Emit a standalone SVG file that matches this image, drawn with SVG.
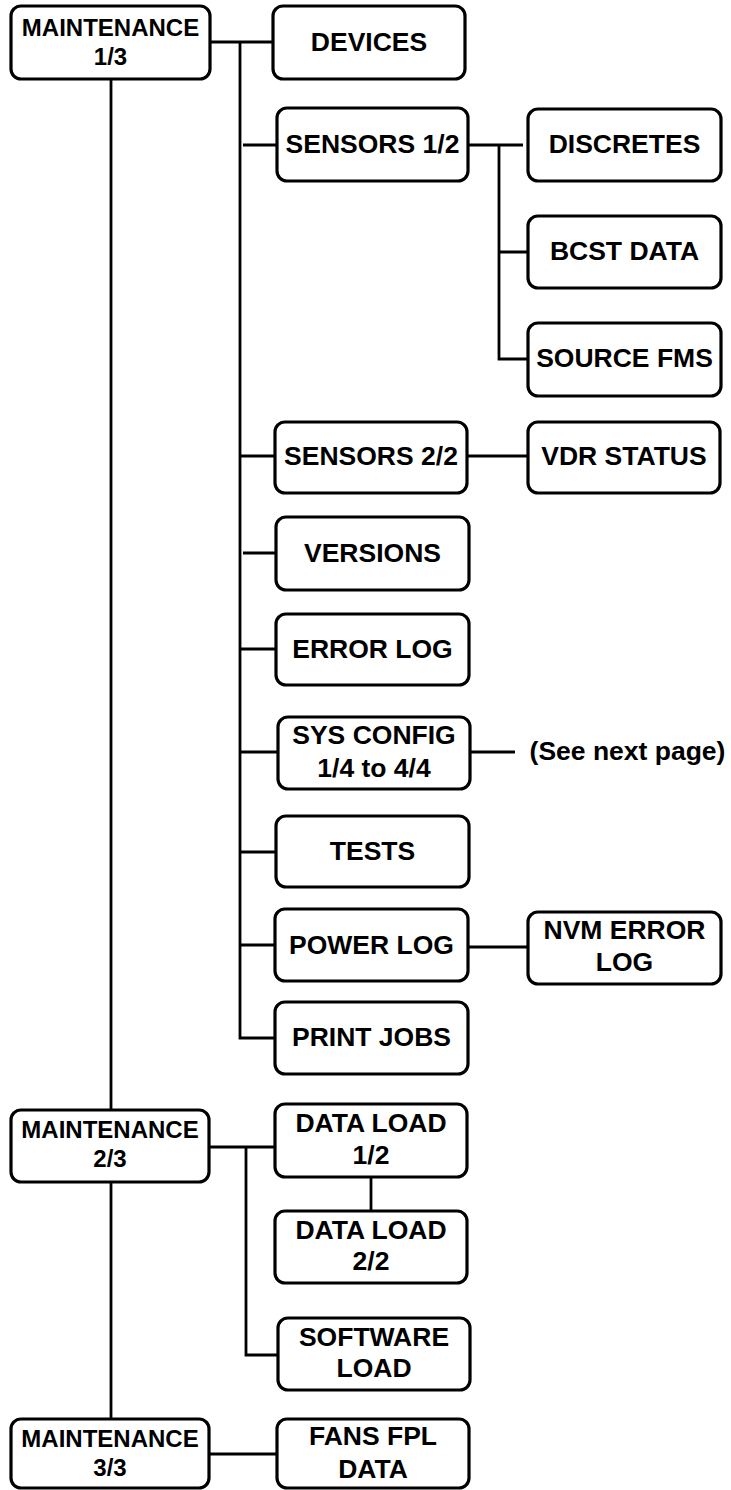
<svg xmlns="http://www.w3.org/2000/svg" width="731" height="1490" viewBox="0 0 731 1490">
<style>
.box{fill:#fff;stroke:#000;stroke-width:3.2}
.t{font-family:"Liberation Sans",Arial,sans-serif;font-weight:bold;font-size:26.5px;fill:#000;text-anchor:middle}
.m{font-size:24px}
.c{fill:none;stroke:#000;stroke-width:2.8}
</style>
<rect width="731" height="1490" fill="#fff"/>
<g id="connectors">
<path class="c" d="M210 42H273"/>
<path class="c" d="M240 42V1038H275"/>
<path class="c" d="M243 145H277"/>
<path class="c" d="M240 456H275"/>
<path class="c" d="M243 553H276"/>
<path class="c" d="M240 649H276"/>
<path class="c" d="M240 752H278"/>
<path class="c" d="M240 852H276"/>
<path class="c" d="M240 945H275"/>
<path class="c" d="M468 145H523"/>
<path class="c" d="M499 145V359H528"/>
<path class="c" d="M499 252H536"/>
<path class="c" d="M467 456H528"/>
<path class="c" d="M470 752H515"/>
<path class="c" d="M468 947H528"/>
<path class="c" d="M111 79V1110"/>
<path class="c" d="M111 1182V1419"/>
<path class="c" d="M209 1147H275"/>
<path class="c" d="M246 1147V1355H278"/>
<path class="c" d="M371 1177V1211"/>
<path class="c" d="M209 1454H277"/>
</g>
<g id="maint1"><rect class="box" x="11" y="6" width="199" height="73" rx="10"/><text class="t m" x="110.5" y="36">MAINTENANCE</text><text class="t m" x="110.5" y="65">1/3</text></g>
<g id="devices"><rect class="box" x="273" y="6" width="192" height="73" rx="10"/><text class="t" x="369" y="51">DEVICES</text></g>
<g id="sensors1"><rect class="box" x="277" y="108" width="191" height="73" rx="10"/><text class="t" x="372.5" y="153">SENSORS 1/2</text></g>
<g id="discretes"><rect class="box" x="528" y="109" width="193" height="72" rx="10"/><text class="t" x="624.5" y="153">DISCRETES</text></g>
<g id="bcst"><rect class="box" x="528" y="216" width="193" height="72" rx="10"/><text class="t" x="624.5" y="260">BCST DATA</text></g>
<g id="sourcefms"><rect class="box" x="528" y="323" width="193" height="73" rx="10"/><text class="t" x="624.5" y="367">SOURCE FMS</text></g>
<g id="sensors2"><rect class="box" x="275" y="422" width="192" height="71" rx="10"/><text class="t" x="371" y="465">SENSORS 2/2</text></g>
<g id="vdr"><rect class="box" x="528" y="422" width="192" height="71" rx="10"/><text class="t" x="624" y="465">VDR STATUS</text></g>
<g id="versions"><rect class="box" x="276" y="517" width="193" height="73" rx="10"/><text class="t" x="372.5" y="562">VERSIONS</text></g>
<g id="errorlog"><rect class="box" x="276" y="614" width="193" height="71" rx="10"/><text class="t" x="372.5" y="658">ERROR LOG</text></g>
<g id="sysconfig"><rect class="box" x="278" y="717" width="192" height="72" rx="10"/><text class="t" x="374" y="744">SYS CONFIG</text><text class="t" x="374" y="777">1/4 to 4/4</text></g>
<g id="seenext"><text class="t" x="627.5" y="760">(See next page)</text></g>
<g id="tests"><rect class="box" x="276" y="816" width="193" height="71" rx="10"/><text class="t" x="372.5" y="860">TESTS</text></g>
<g id="powerlog"><rect class="box" x="275" y="909" width="193" height="72" rx="10"/><text class="t" x="371.5" y="954">POWER LOG</text></g>
<g id="nvm"><rect class="box" x="528" y="912" width="193" height="72" rx="10"/><text class="t" x="624.5" y="939">NVM ERROR</text><text class="t" x="624.5" y="971">LOG</text></g>
<g id="printjobs"><rect class="box" x="275" y="1002" width="193" height="72" rx="10"/><text class="t" x="371.5" y="1046">PRINT JOBS</text></g>
<g id="maint2"><rect class="box" x="11" y="1110" width="198" height="72" rx="10"/><text class="t m" x="110" y="1138">MAINTENANCE</text><text class="t m" x="110" y="1167">2/3</text></g>
<g id="dataload1"><rect class="box" x="275" y="1104" width="192" height="73" rx="10"/><text class="t" x="371" y="1132">DATA LOAD</text><text class="t" x="371" y="1164">1/2</text></g>
<g id="dataload2"><rect class="box" x="275" y="1211" width="192" height="72" rx="10"/><text class="t" x="371" y="1239">DATA LOAD</text><text class="t" x="371" y="1270">2/2</text></g>
<g id="swload"><rect class="box" x="278" y="1318" width="192" height="72" rx="10"/><text class="t" x="374" y="1346">SOFTWARE</text><text class="t" x="374" y="1377">LOAD</text></g>
<g id="maint3"><rect class="box" x="11" y="1419" width="198" height="69" rx="10"/><text class="t m" x="110" y="1447">MAINTENANCE</text><text class="t m" x="110" y="1476">3/3</text></g>
<g id="fans"><rect class="box" x="277" y="1419" width="192" height="69" rx="10"/><text class="t" x="373" y="1445">FANS FPL</text><text class="t" x="373" y="1478">DATA</text></g>
</svg>
